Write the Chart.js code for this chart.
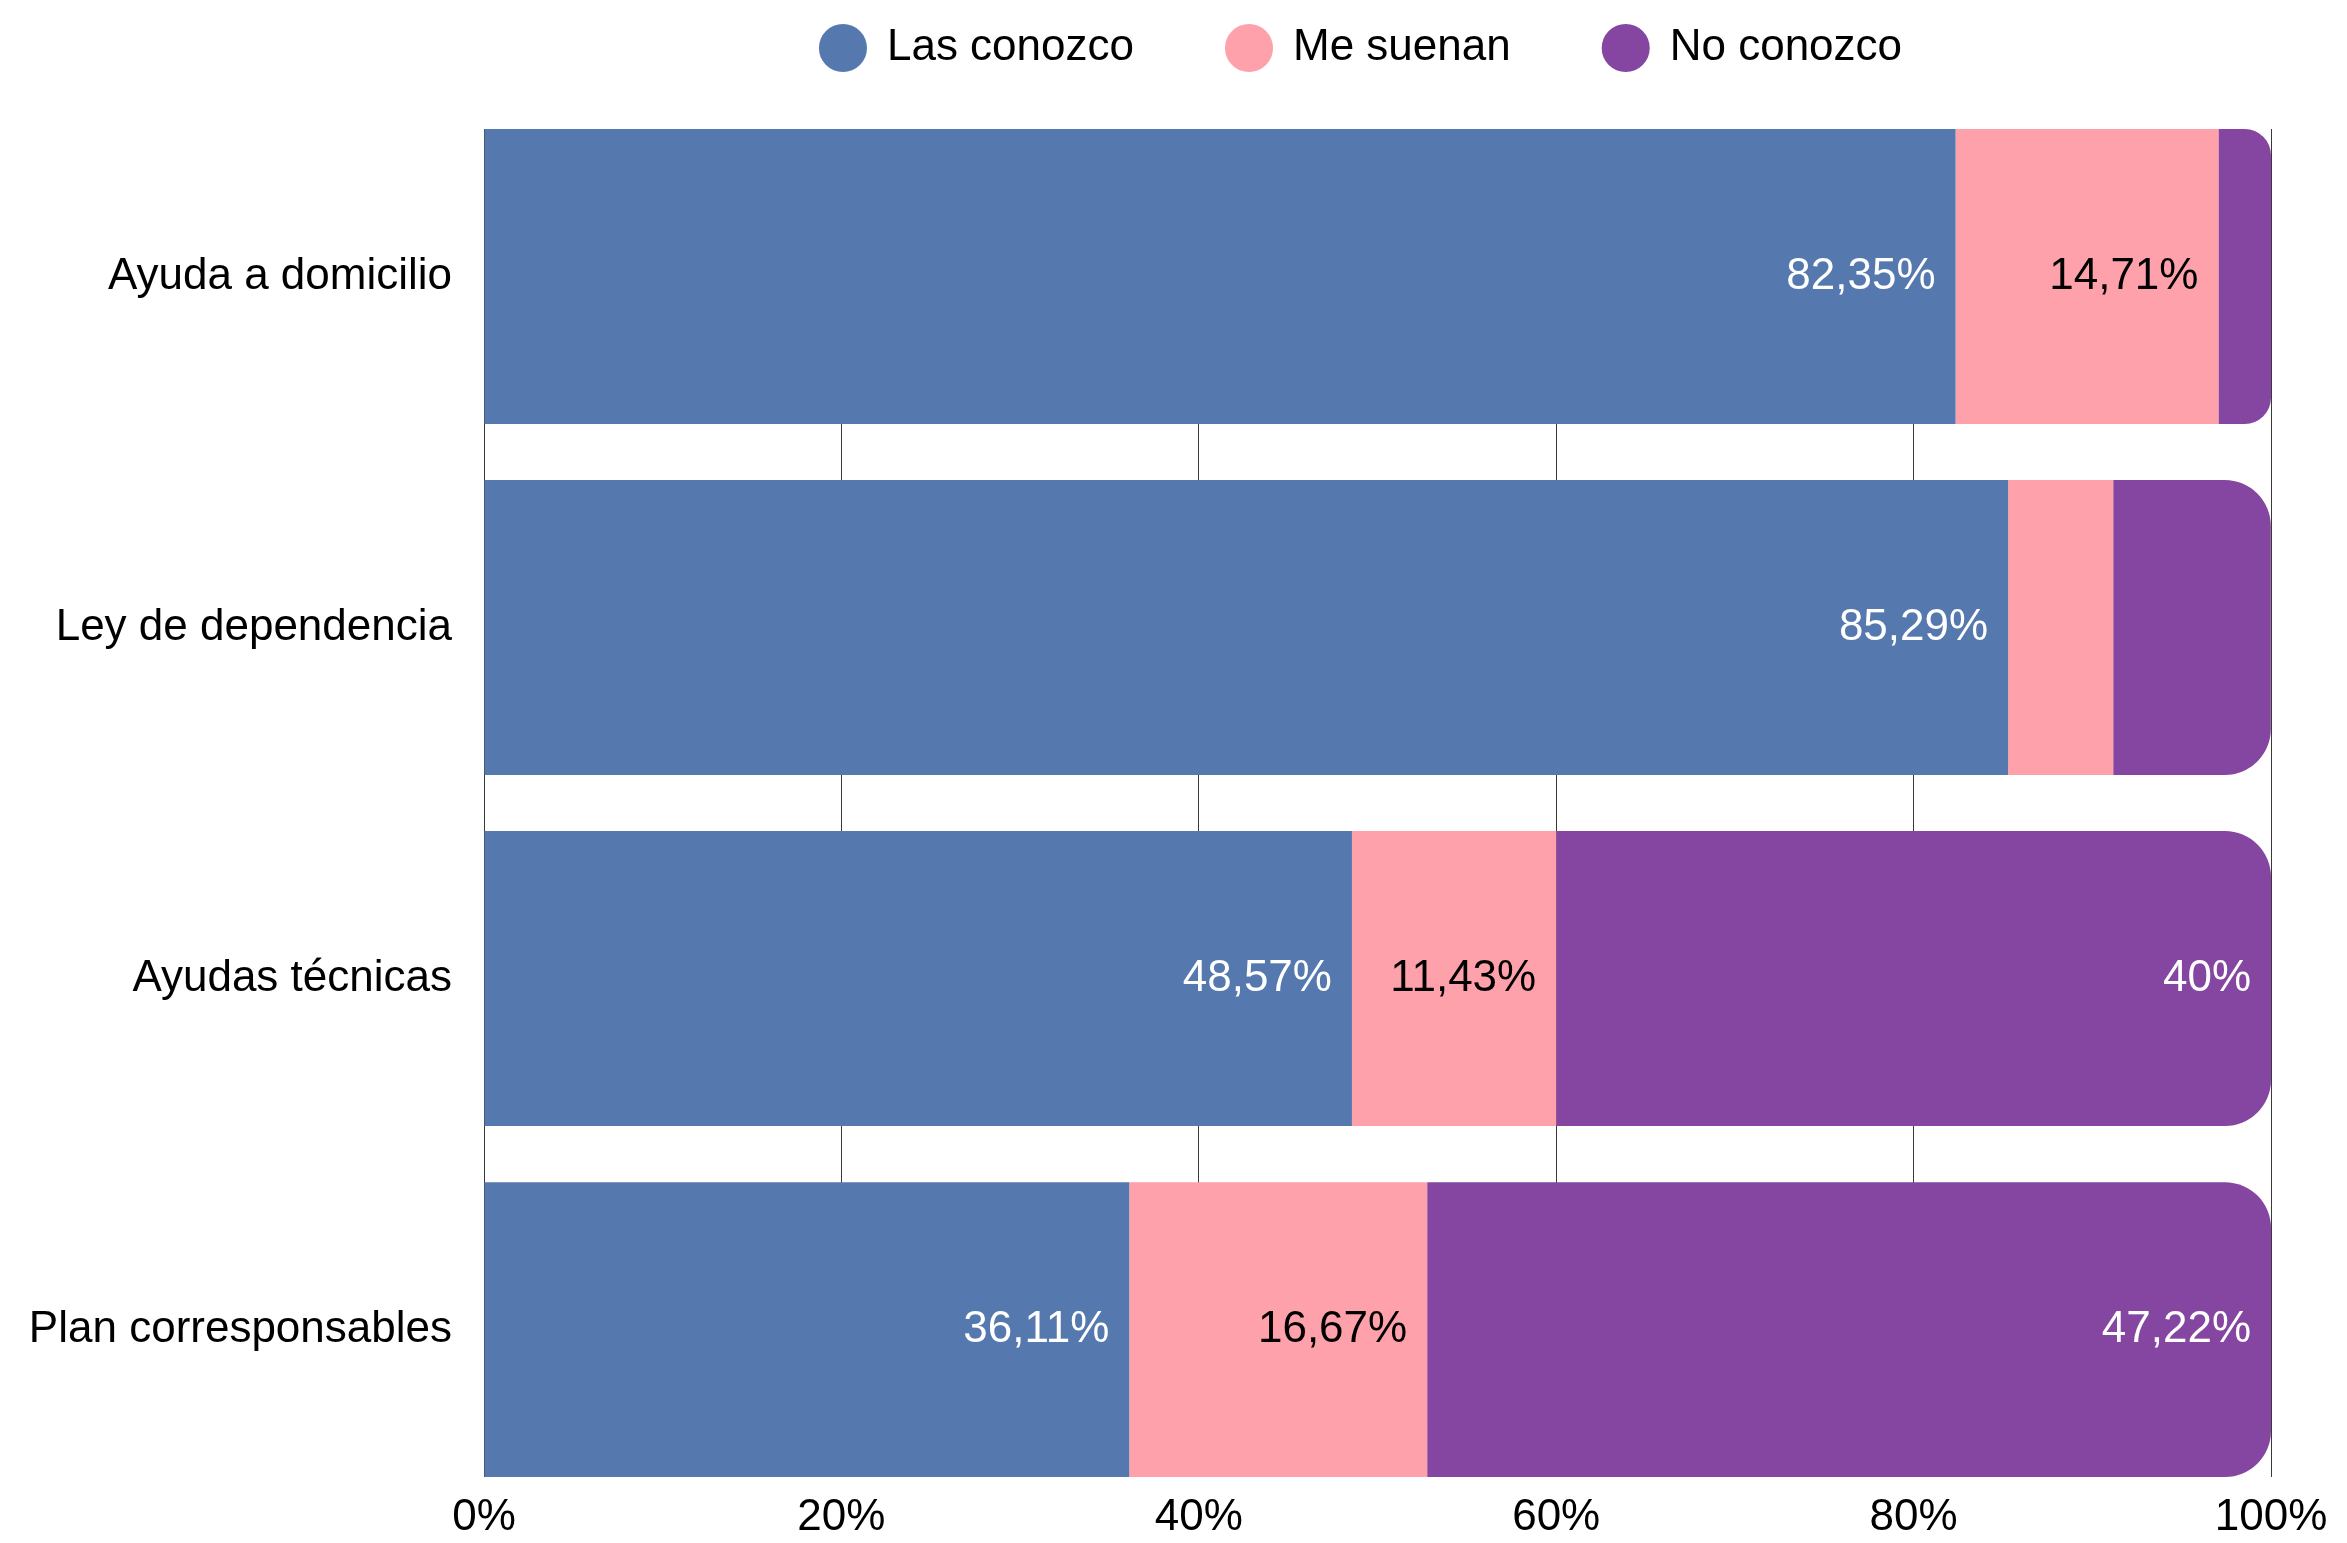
<!DOCTYPE html>
<html>
<head>
<meta charset="utf-8">
<script src="https://cdn.jsdelivr.net/npm/chart.js@4"></script>
<style>
  html, body { margin: 0; padding: 0; background: #fff; }
  #wrap { width: 2347px; height: 1543px; }
</style>
</head>
<body>
<div id="wrap"><canvas id="c" width="2347" height="1543"></canvas></div>
<script>
// datos
const categories = ['Ayuda a domicilio', 'Ley de dependencia', 'Ayudas técnicas', 'Plan corresponsables'];
const lasConozco = [82.35, 85.29, 48.57, 36.11];
const meSuenan = [14.71, 5.88, 11.43, 16.67];
const noConozco = [2.94, 8.82, 40, 47.22];
const xTicks = [0, 20, 40, 60, 80, 100];
const seriesNames = ['Las conozco', 'Me suenan', 'No conozco'];

const FONT = "'Liberation Sans', Arial, sans-serif";
const toPoints = (arr) => arr.map((v, i) => ({ x: v, y: i }));

// etiquetas dentro de las barras (solo si el segmento es >= 10%)
const barLabels = {
    id: 'barLabels',
    afterDatasetsDraw: function (chart) {
        const ctx = chart.ctx;
        ctx.save();
        ctx.font = '44px ' + FONT;
        ctx.textAlign = 'right';
        ctx.textBaseline = 'middle';
        chart.data.datasets.forEach(function (ds, di) {
            const meta = chart.getDatasetMeta(di);
            meta.data.forEach(function (bar, i) {
                const v = ds.data[i].x;
                if (v < 10) return;
                ctx.fillStyle = ds.labelColor;
                ctx.fillText(String(v).replace('.', ',') + '%', bar.x - 20, bar.y);
            });
        });
        ctx.restore();
    }
};

// alto fijo para la leyenda y pequeño desplazamiento a la izquierda
const legendSlot = {
    id: 'legendSlot',
    beforeLayout: function (chart) {
        const lg = chart.legend;
        if (lg && !lg._slot) {
            const fit = lg.fit;
            lg.fit = function () { fit.call(this); this.height = 196; };
            lg._slot = true;
        }
    },
    afterLayout: function (chart) {
        const lg = chart.legend;
        if (lg) { lg.left -= 16; lg.right -= 16; }
    }
};

new Chart(document.getElementById('c'), {
    type: 'bar',
    data: {
        datasets: [
            { label: seriesNames[0], data: toPoints(lasConozco), backgroundColor: '#5579AE', labelColor: '#fff', borderWidth: 0 },
            { label: seriesNames[1], data: toPoints(meSuenan), backgroundColor: '#FFA1AA', labelColor: '#000', borderWidth: 0 },
            { label: seriesNames[2], data: toPoints(noConozco), backgroundColor: '#8446A0', labelColor: '#fff', borderWidth: 0, borderRadius: 46 },
        ],
    },
    options: {
        indexAxis: 'y',
        responsive: false,
        animation: false,
        categoryPercentage: 1,
        barPercentage: 0.84,
        layout: { padding: { top: -67, right: 76, bottom: 0, left: 0 } },
        plugins: {
            legend: {
                position: 'top',
                fullSize: false,
                labels: {
                    usePointStyle: true,
                    pointStyle: 'circle',
                    boxWidth: 44,
                    boxHeight: 34,
                    padding: 93,
                    color: '#000',
                    font: { family: FONT, size: 44 },
                },
            },
            tooltip: { enabled: false },
        },
        scales: {
            x: {
                type: 'linear',
                stacked: true,
                min: 0,
                max: 100,
                afterBuildTicks: function (s) { s.ticks = xTicks.map(v => ({ value: v })); },
                afterFit: function (s) { s.height = 66; },
                ticks: { color: '#000', font: { family: FONT, size: 44 }, padding: 14, callback: v => v + '%' },
                grid: { color: '#3a3a3a', lineWidth: 1, drawTicks: false },
                border: { display: false },
            },
            y: {
                type: 'linear',
                stacked: true,
                reverse: true,
                offset: false,
                min: -0.42,
                max: 3.42,
                afterBuildTicks: function (s) { s.ticks = categories.map((c, i) => ({ value: i })); },
                afterFit: function (s) { s.width = 484; },
                ticks: { color: '#000', font: { family: FONT, size: 44 }, padding: 24, callback: v => categories[v] },
                grid: { display: false, offset: false },
                border: { display: false },
            },
        },
    },
    plugins: [barLabels, legendSlot],
});
</script>
</body>
</html>
